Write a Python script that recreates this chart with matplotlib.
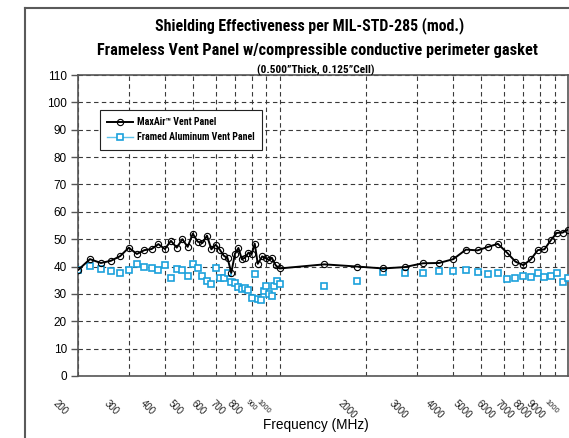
import matplotlib
matplotlib.use("Agg")
import matplotlib.pyplot as plt
import matplotlib.font_manager as fm
from matplotlib.lines import Line2D
from matplotlib.ticker import MultipleLocator, NullFormatter, NullLocator
import matplotlib.transforms as mtransforms


def pick_family(candidates):
    for name in candidates:
        try:
            fm.findfont(fm.FontProperties(family=name), fallback_to_default=False)
            return name
        except ValueError:
            continue
    return "DejaVu Sans"


COND = pick_family(["Liberation Sans Narrow", "Roboto Condensed", "Open Sans Condensed", "Liberation Sans"])
ARIAL = pick_family(["Liberation Sans", "Arimo", "DejaVu Sans"])

# ---- measured data ---------------------------------------------------------
freq_low = [200, 220, 240, 260, 280, 300, 320, 340, 360, 380, 400, 420, 440, 460,
            480, 500, 520, 540, 560, 580, 600, 620, 640, 660, 680, 700, 720, 740,
            760, 780, 800, 820, 840]
maxair_low = [38.7, 42.7, 41.3, 42.1, 43.8, 46.9, 44.6, 46.0, 46.4, 48.2, 46.4, 49.4,
              46.9, 50.0, 47.2, 52.0, 49.1, 48.6, 51.3, 46.3, 48.0, 46.2, 44.0, 43.1,
              37.7, 44.6, 46.8, 42.6, 43.3, 45.1, 44.5, 48.4, 41.0]
freq_mid = [870, 895, 920, 940, 970, 1000]
maxair_mid = [43.7, 43.1, 42.3, 43.2, 40.4, 39.3]

freq_alu = [200, 220, 240, 260, 280, 300, 320, 340, 360, 380, 400, 420, 440, 460,
            480, 500, 520, 540, 560, 580, 600, 620, 640, 660, 680, 700, 720, 740,
            760, 780, 800, 820, 840, 860, 880, 900, 920, 940, 960, 980, 1000]
alu_low = [38.7, 40.2, 39.0, 38.4, 37.7, 38.9, 40.9, 39.9, 39.3, 38.7, 40.6, 35.9,
           39.2, 38.7, 36.5, 41.1, 39.3, 36.6, 34.8, 33.5, 39.4, 35.7, 35.7, 37.5,
           34.3, 33.9, 32.7, 31.8, 32.0, 31.5, 28.6, 37.2, 28.1, 27.6, 31.0, 33.0,
           29.8, 29.3, 33.0, 34.9, 33.6]

freq_high = [1429, 1857, 2286, 2714, 3143, 3571, 4000, 4429, 4857, 5286, 5714,
             6143, 6571, 7000, 7429, 7857, 8286, 8714, 9143, 9571, 10000]
maxair_high = [40.8, 40.0, 39.3, 39.8, 41.2, 41.3, 42.7, 46.2, 45.9, 47.2, 48.3,
               45.1, 41.8, 40.5, 42.6, 46.0, 46.3, 49.6, 52.3, 52.4, 53.5]
alu_high = [33.0, 34.8, 38.1, 37.5, 37.5, 38.4, 38.4, 38.8, 38.1, 37.1, 37.5,
            35.4, 35.7, 36.5, 36.1, 37.8, 36.1, 36.5, 37.8, 34.2, 35.7]

xtick_vals = [200, 300, 400, 500, 600, 700, 800, 900, 1000,
              2000, 3000, 4000, 5000, 6000, 7000, 8000, 9000, 10000]
xtick_text = ["200", "300", "400", "500", "600", "700", "800", "900", "1000",
              "2000", "3000", "4000", "5000", "6000", "7000", "8000", "9000", "1000"]
small_labels = {900, 1000, 10000}

maxair_f = freq_low + freq_mid + freq_high
maxair_v = maxair_low + maxair_mid + maxair_high
alu_f = freq_alu + freq_high
alu_v = alu_low + alu_high

CYAN = "#1ba1dc"
CYAN_LIGHT = "#5cc3ec"
GRID = "#3a3a3a"

# ---- figure ---------------------------------------------------------------
W, H = 569, 438
fig = plt.figure(figsize=(W / 100, H / 100), dpi=100)
fig.patch.set_facecolor("white")

# outer chart frame
fig.add_artist(Line2D([24.7 / W, 24.7 / W], [0, 1 - 8 / H], transform=fig.transFigure,
                      color="#5a5a5a", lw=1.5))
fig.add_artist(Line2D([24.7 / W, 1], [1 - 8 / H, 1 - 8 / H], transform=fig.transFigure,
                      color="#5a5a5a", lw=1.5))

ax = fig.add_axes([78 / W, (H - 376) / H, 490 / W, 301 / H])
ax.set_xscale("log")
ax.set_xlim(200, 10000)
ax.set_ylim(0, 110)

ax.yaxis.set_major_locator(MultipleLocator(10))
ax.set_xticks(xtick_vals)
ax.xaxis.set_major_formatter(NullFormatter())
ax.xaxis.set_minor_locator(NullLocator())
ax.xaxis.set_minor_formatter(NullFormatter())
ax.tick_params(axis="x", which="major", length=0)
ax.set_xticks([1000], minor=True)
ax.tick_params(axis="x", which="minor", length=4, width=1, color="#333333", direction="out")
ax.tick_params(axis="y", length=5, width=1, color="#555555", direction="out",
               labelsize=8.5, pad=3)
for lab in ax.get_yticklabels():
    lab.set_fontfamily(ARIAL)

ax.grid(True, which="major", color=GRID, lw=0.8, ls=(0, (4, 3)))
ax.set_axisbelow(True)
for s in ax.spines.values():
    s.set_color("#555555")
    s.set_linewidth(1.2)

# data
ax.plot(alu_f, alu_v, ls="none", marker="s", ms=3.8, mfc="white", mec=CYAN, mew=1.2,
        zorder=3)
ax.plot(maxair_f, maxair_v, color="black", lw=1.4, marker="o", ms=4.5, mfc="none",
        mec="black", mew=0.8, zorder=4)

# rotated frequency labels
off = mtransforms.ScaledTranslation(-8 / 100, -22 / 100, fig.dpi_scale_trans)
btrans = mtransforms.blended_transform_factory(ax.transData, ax.transAxes) + off
for v, t in zip(xtick_vals, xtick_text):
    ax.text(v, 0, t, transform=btrans, rotation=-45, ha="right", va="top",
            fontsize=5.5 if v in small_labels else 7, family=ARIAL, color="#222222",
            clip_on=False)

fig.text(316 / W, 1 - 425 / H, "Frequency (MHz)", ha="center", va="center",
         fontsize=9.8, family=ARIAL)

# titles
fig.text(310 / W, 1 - 30 / H, "Shielding Effectiveness per MIL-STD-285 (mod.)",
         ha="center", va="baseline", fontsize=11.4, fontweight="bold", family=COND)
fig.text(317 / W, 1 - 54.5 / H,
         "Frameless Vent Panel w/compressible conductive perimeter gasket",
         ha="center", va="baseline", fontsize=11.7, fontweight="bold", family=COND)
fig.text(316 / W, 1 - 74 / H, "(0.500\u201dThick, 0.125\u201dCell)",
         ha="center", va="baseline", fontsize=8.2, fontweight="bold", family=COND)

# legend
handles = [
    Line2D([], [], color="black", lw=1.4, marker="o", ms=4.5, mfc="none", mec="black",
           mew=0.8),
    Line2D([], [], color=CYAN_LIGHT, lw=1.0, marker="s", ms=3.8, mfc="white", mec=CYAN,
           mew=1.2),
]
leg = ax.legend(handles, ["MaxAir\u2122 Vent Panel", "Framed Aluminum Vent Panel"],
                loc="upper left", bbox_to_anchor=((100 - 78) / 490, (376 - 110) / 301),
                borderaxespad=0, fancybox=False, framealpha=1, edgecolor="#222222",
                numpoints=1, handlelength=2.6, handletextpad=0.4, labelspacing=0.5,
                borderpad=0.75,
                prop=fm.FontProperties(family=COND, weight="bold", size=7.1))
leg.get_frame().set_linewidth(0.8)

fig.savefig("out.png", dpi=100)
